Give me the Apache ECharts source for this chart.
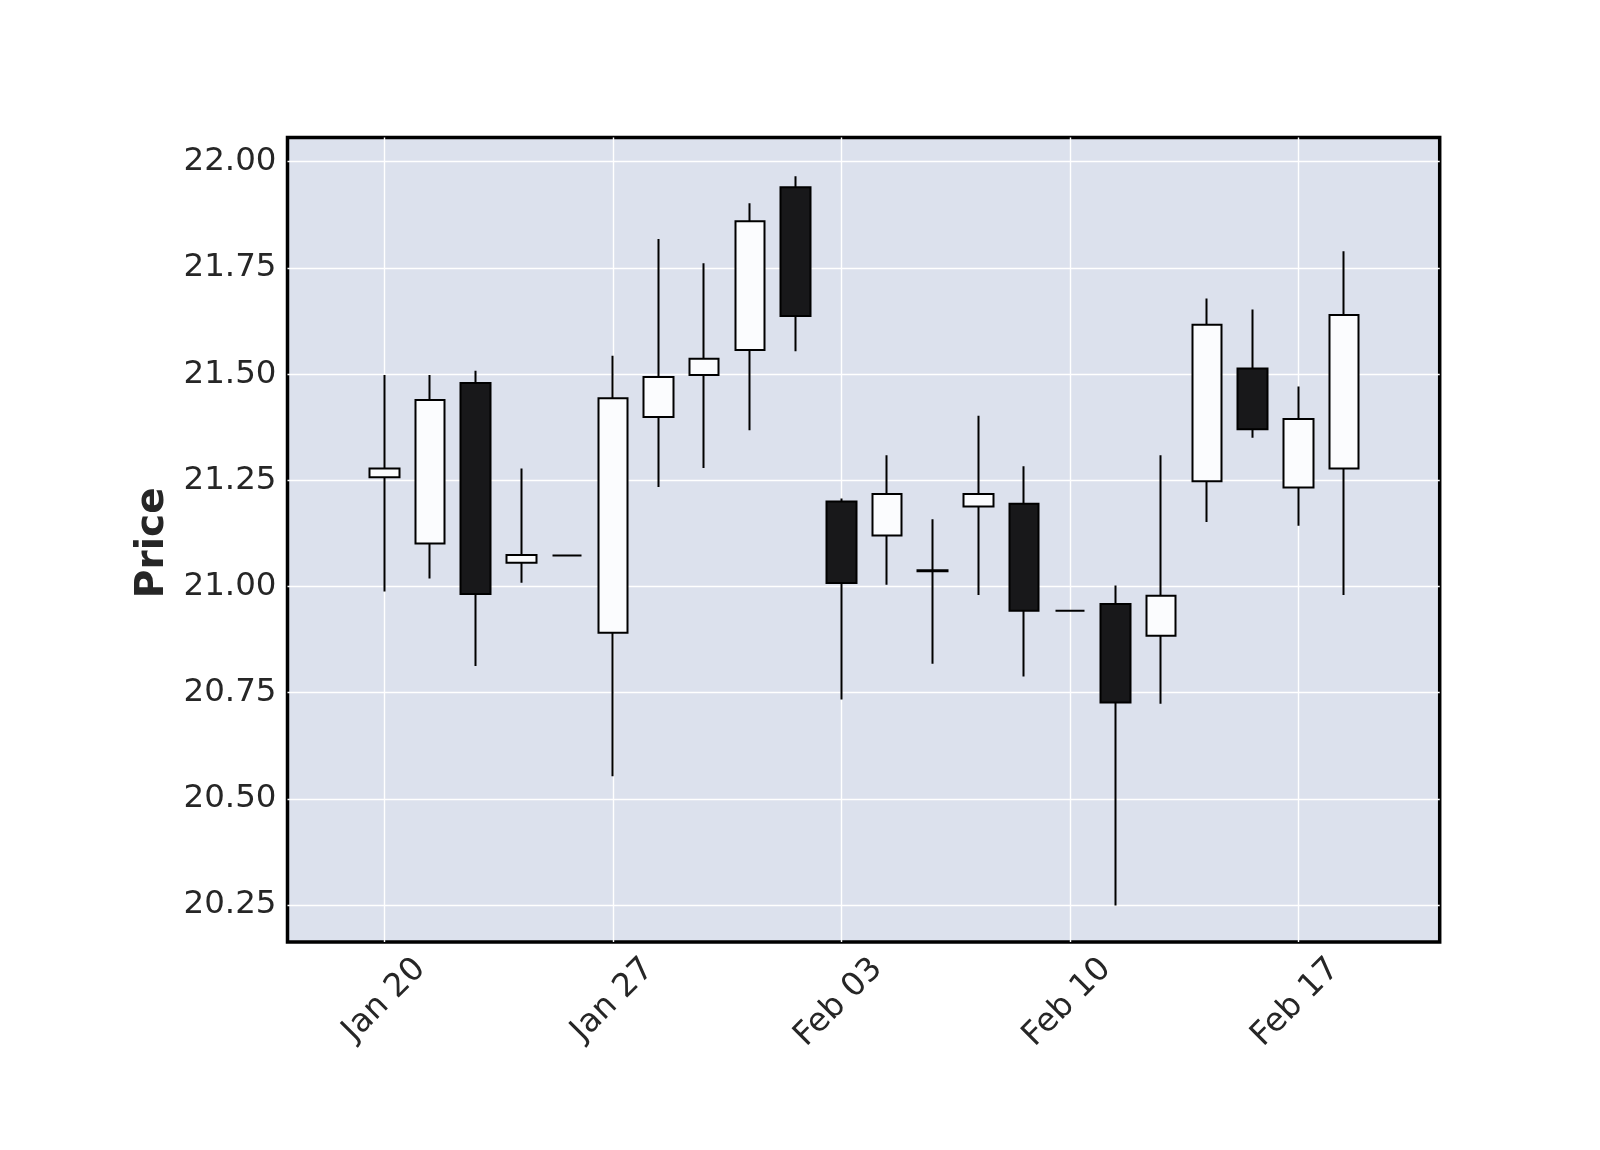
<!DOCTYPE html>
<html><head><meta charset="utf-8">
<script src="https://cdn.jsdelivr.net/npm/echarts@6/dist/echarts.min.js"></script>
<style>html,body{margin:0;padding:0;background:#fff}#c{width:1600px;height:1150px}</style>
</head><body><div id="c"></div>
<script>
const dates = ['Jan 20','Jan 21','Jan 22','Jan 23','Jan 24','Jan 27','Jan 28','Jan 29','Jan 30','Jan 31',
  'Feb 03','Feb 04','Feb 05','Feb 06','Feb 07','Feb 10','Feb 11','Feb 12','Feb 13','Feb 14','Feb 17','Feb 18'];
const opens  = [21.257,21.101,21.479,21.056,21.073,20.891,21.399,21.498,21.557,21.940,
  21.200,21.120,21.036,21.188,21.195,20.943,20.959,20.884,21.248,21.513,21.233,21.278];
const closes = [21.278,21.439,20.982,21.074,21.073,21.443,21.493,21.536,21.860,21.637,
  21.008,21.218,21.038,21.218,20.943,20.943,20.727,20.978,21.616,21.370,21.394,21.639];
const lows   = [20.988,21.019,20.813,21.009,21.073,20.553,21.234,21.279,21.368,21.554,
  20.734,21.004,20.818,20.980,20.788,20.943,20.249,20.724,21.152,21.350,21.143,20.980];
const highs  = [21.498,21.498,21.508,21.278,21.073,21.543,21.818,21.761,21.902,21.966,
  21.207,21.309,21.158,21.402,21.283,20.943,21.002,21.309,21.678,21.652,21.471,21.789];
const xTickIdx = [0,5,10,15,20];
const yTicks = [20.25,20.50,20.75,21.00,21.25,21.50,21.75,22.00];

const data = dates.map((d,i)=>[i, opens[i], closes[i], lows[i], highs[i]]);
const font = 'DejaVu Sans';
const chart = echarts.init(document.getElementById('c'), null, {renderer:'canvas'});
chart.setOption({
  animation:false,
  backgroundColor:'#ffffff',
  grid:{left:287.5,right:160.3,top:137.5,bottom:208,show:true,backgroundColor:'#dce1ed',
    borderColor:'#000',borderWidth:3.5,containLabel:false,outerBoundsMode:'none'},
  xAxis:{type:'value',min:-2.118,max:23.094,
    axisLine:{show:false},
    axisTick:{show:false,customValues:xTickIdx},
    splitLine:{show:true,lineStyle:{color:'#ffffff',width:1.4}},
    axisLabel:{customValues:xTickIdx,rotate:45,margin:58,fontFamily:font,fontSize:32.5,color:'#262626',
      padding:[0,-51,0,0],
      formatter:v=>dates[Math.round(v)]||''}
  },
  yAxis:{type:'value',min:20.163,max:22.057,
    name:'Price',nameLocation:'middle',nameGap:112,
    nameTextStyle:{fontFamily:font,fontSize:39,fontWeight:'bold',color:'#262626',padding:[0,6,0,0]},
    axisLine:{show:false},
    axisTick:{show:false,customValues:yTicks},
    splitLine:{show:true,lineStyle:{color:'#ffffff',width:1.4}},
    axisLabel:{customValues:yTicks,margin:11,fontFamily:font,fontSize:32.5,color:'#262626',
      formatter:v=>v.toFixed(2)}
  },
  series:[{
    type:'candlestick',
    data:data,
    encode:{x:0,y:[1,2,3,4]},
    barWidth:30,
    itemStyle:{color:'#fbfcfe',color0:'#18181a',borderColor:'#000',borderColor0:'#000',
      borderColorDoji:'#000',borderWidth:2}
  }]
});
</script></body></html>
